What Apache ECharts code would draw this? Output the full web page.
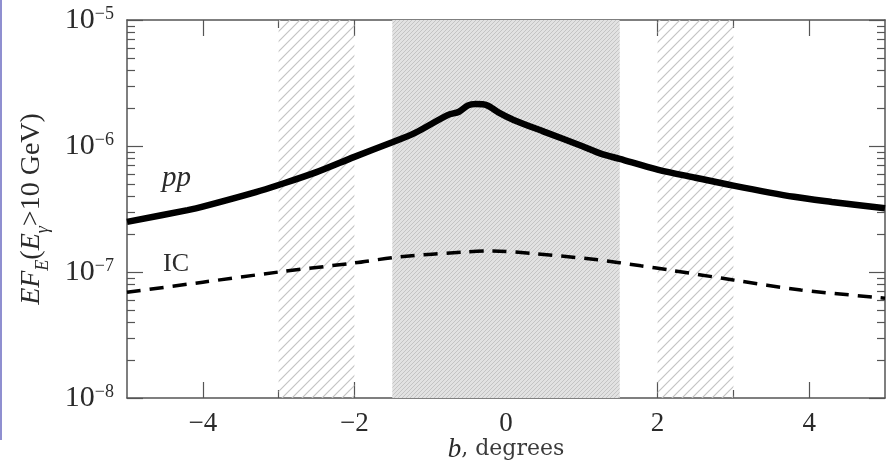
<!DOCTYPE html>
<html>
<head>
<meta charset="utf-8">
<script src="https://cdn.jsdelivr.net/npm/echarts@6/dist/echarts.min.js"></script>
<style>
  html, body { margin: 0; padding: 0; background: #fff; }
  #chart { width: 889px; height: 463px; }
</style>
</head>
<body>
<div id="chart"></div>
<script>
// latitude b (degrees) and flux values
const ppB = [-5, -4.2, -4, -3.3, -3, -2.5, -2, -1.5, -1.2, -0.77, -0.62, -0.5, -0.4, -0.25, -0.1, 0.1, 0.5, 1.0, 1.25, 1.5, 2.0, 2.5, 3.0, 3.8, 4.3, 5];
const ppFlux = [2.5e-7, 3.1e-7, 3.3e-7, 4.3e-7, 4.9e-7, 6.2e-7, 8.2e-7, 1.07e-6, 1.27e-6, 1.76e-6, 1.87e-6, 2.1e-6, 2.15e-6, 2.1e-6, 1.85e-6, 1.61e-6, 1.3e-6, 1.0e-6, 8.7e-7, 7.9e-7, 6.5e-7, 5.6e-7, 4.85e-7, 3.95e-7, 3.6e-7, 3.2e-7];

const icB = [-5, -4, -3, -2, -1.4, -0.55, -0.2, 0.37, 1.21, 1.78, 2.14, 3.0, 3.89, 5];
const icFlux = [6.9e-8, 8.3e-8, 1.0e-7, 1.18e-7, 1.32e-7, 1.44e-7, 1.47e-7, 1.40e-7, 1.25e-7, 1.12e-7, 1.04e-7, 8.65e-8, 7.2e-8, 6.2e-8];

const bandsWide = [[-3, -2], [2, 3]];
const bandCentre = [-1.5, 1.5];

const xMajor = [-4, -2, 0, 2, 4];
const xMinor = [-3, -1, 1, 3];
const yMajor = [1e-8, 1e-7, 1e-6, 1e-5];
const yMinor = [];
[1e-8, 1e-7, 1e-6].forEach(d => { for (let k = 2; k <= 9; k++) yMinor.push(+(d * k).toPrecision(3)); });

const serif = 'Liberation Serif';
const axisColor = '#555';
const textColor = '#2a2a2a';

function hatch(size, bg, fg, lw) {
  const c = document.createElement('canvas');
  c.width = size; c.height = size;
  const g = c.getContext('2d');
  if (bg) { g.fillStyle = bg; g.fillRect(0, 0, size, size); }
  g.strokeStyle = fg; g.lineWidth = lw;
  g.beginPath();
  g.moveTo(0, size); g.lineTo(size, 0);
  g.moveTo(-size / 2, size / 2); g.lineTo(size / 2, -size / 2);
  g.moveTo(size / 2, size * 1.5); g.lineTo(size * 1.5, size / 2);
  g.stroke();
  return { image: c, repeat: 'repeat' };
}

const minus = v => String(v).replace('-', '\u2212');

function xAxisDef(grid, pos, ticks, len, labels) {
  return {
    gridIndex: grid, type: 'value', position: pos, min: -5, max: 5, interval: 1,
    axisLine: { show: grid === 0, onZero: false, lineStyle: { color: axisColor, width: 1.5 } },
    axisTick: { show: true, inside: true, length: len, customValues: ticks, lineStyle: { color: axisColor, width: 1.2 } },
    axisLabel: labels ? {
      show: true, customValues: xMajor, margin: 12, fontFamily: serif, fontSize: 27, color: textColor,
      formatter: minus
    } : { show: false },
    splitLine: { show: false }
  };
}

function yAxisDef(grid, pos, ticks, len, labels) {
  return {
    gridIndex: grid, type: 'log', logBase: 10, position: pos, min: 1e-8, max: 1e-5,
    axisLine: { show: grid === 0, onZero: false, lineStyle: { color: axisColor, width: 1.5 } },
    axisTick: { show: true, inside: true, length: len, customValues: ticks, lineStyle: { color: axisColor, width: 1.2 } },
    axisLabel: labels ? {
      show: true, customValues: yMajor, margin: 13,
      formatter: v => '{b|10}{s|' + minus(Math.round(Math.log10(v))) + '}',
      rich: {
        b: { fontFamily: serif, fontSize: 30, color: textColor, lineHeight: 30, verticalAlign: 'bottom' },
        s: { fontFamily: serif, fontSize: 18, color: textColor, lineHeight: 16, verticalAlign: 'top' }
      }
    } : { show: false },
    splitLine: { show: false },
    minorTick: { show: false }
  };
}

function draw() {
  const chart = echarts.init(document.getElementById('chart'));
  const gridRect = { left: 127, right: 4, top: 20, bottom: 65, outerBoundsMode: 'none', containLabel: false };

  const xBottom = xAxisDef(0, 'bottom', xMajor, 16, true);
  xBottom.name = '{i|b}{n|, degrees}';
  xBottom.nameLocation = 'middle';
  xBottom.nameGap = 38;
  xBottom.nameMoveOverlap = false;
  xBottom.nameTextStyle = {
    rich: {
      i: { fontFamily: serif, fontStyle: 'italic', fontSize: 27, color: textColor },
      n: { fontFamily: 'DejaVu Serif', fontSize: 22, color: '#3a3a3a' }
    }
  };

  const yLeft = yAxisDef(0, 'left', yMajor, 16, true);
  yLeft.name = '{i|EF}{s|E}{n|(}{i|E}{s|\u03b3}{n|>10 GeV)}';
  yLeft.nameLocation = 'middle';
  yLeft.nameGap = 75;
  yLeft.nameRotate = 90;
  yLeft.nameTextStyle = {
    rich: {
      i: { fontFamily: serif, fontStyle: 'italic', fontSize: 28, color: textColor, lineHeight: 40, verticalAlign: 'middle' },
      n: { fontFamily: serif, fontSize: 28, color: textColor, lineHeight: 40, verticalAlign: 'middle' },
      s: { fontFamily: serif, fontStyle: 'italic', fontSize: 18, color: textColor, lineHeight: 40, verticalAlign: 'bottom' }
    }
  };

  chart.setOption({
    animation: false,
    backgroundColor: '#fff',
    grid: [Object.assign({}, gridRect), Object.assign({}, gridRect)],
    xAxis: [
      xBottom,
      xAxisDef(0, 'top', xMajor, 16, false),
      xAxisDef(1, 'bottom', xMinor, 8, false),
      xAxisDef(1, 'top', xMinor, 8, false)
    ],
    yAxis: [
      yLeft,
      yAxisDef(0, 'right', yMajor, 16, false),
      yAxisDef(1, 'left', yMinor, 8, false),
      yAxisDef(1, 'right', yMinor, 8, false)
    ],
    series: [
      {
        type: 'line', xAxisIndex: 0, yAxisIndex: 0, data: [], z: 1, silent: true,
        markArea: {
          silent: true,
          data: bandsWide.map(b => [
            { xAxis: b[0], itemStyle: { color: hatch(10, null, '#c4c4c4', 1.2) } },
            { xAxis: b[1] }
          ]).concat([[
            { xAxis: bandCentre[0], itemStyle: { color: hatch(4, '#e2e2e2', '#c4c4c4', 1) } },
            { xAxis: bandCentre[1] }
          ]])
        }
      },
      {
        name: 'pp', type: 'line', xAxisIndex: 0, yAxisIndex: 0, z: 3,
        data: ppB.map((b, i) => [b, ppFlux[i]]),
        smooth: 0.3, showSymbol: false,
        lineStyle: { color: '#000', width: 6.5 }
      },
      {
        name: 'IC', type: 'line', xAxisIndex: 0, yAxisIndex: 0, z: 3,
        data: icB.map((b, i) => [b, icFlux[i]]),
        smooth: 0.3, showSymbol: false,
        lineStyle: { color: '#000', width: 3.5, type: [14, 9] }
      }
    ],
    graphic: [
      { type: 'rect', left: 0, top: 0, shape: { width: 2, height: 440 }, style: { fill: '#8f8fd0' } },
      { type: 'text', left: 162, top: 164, style: { text: 'pp', fontFamily: serif, fontStyle: 'italic', fontSize: 29, fill: textColor } },
      { type: 'text', left: 163, top: 251, style: { text: 'IC', fontFamily: serif, fontSize: 26, fill: textColor } }
    ]
  });
}

// make sure the local fonts are ready before the canvas measures text
const fontsWanted = [
  '27px "Liberation Serif"', 'italic 27px "Liberation Serif"', '22px "DejaVu Serif"'
];
Promise.all(fontsWanted.map(f => document.fonts.load(f))).then(draw, draw);
</script>
</body>
</html>
